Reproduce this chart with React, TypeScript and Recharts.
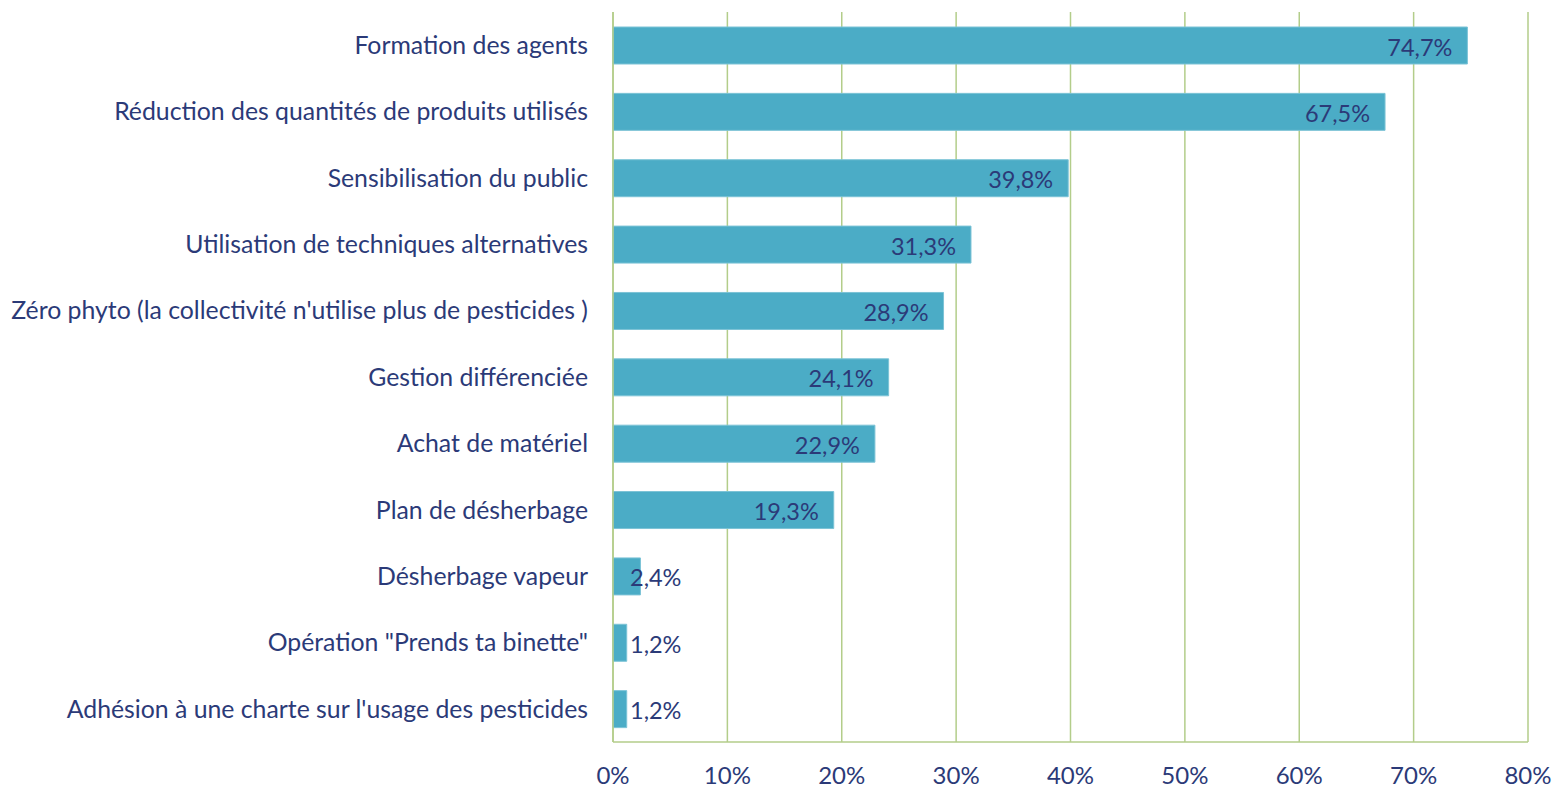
import React from 'react';
import { BarChart, Bar, XAxis, YAxis, CartesianGrid, LabelList } from 'recharts';

const categories = [
  'Formation des agents',
  'Réduction des quantités de produits utilisés',
  'Sensibilisation du public',
  'Utilisation de techniques alternatives',
  "Zéro phyto (la collectivité n'utilise plus de pesticides )",
  'Gestion différenciée',
  'Achat de matériel',
  'Plan de désherbage',
  'Désherbage vapeur',
  'Opération "Prends ta binette"',
  "Adhésion à une charte sur l'usage des pesticides",
];

const shares = [74.7, 67.5, 39.8, 31.3, 28.9, 24.1, 22.9, 19.3, 2.4, 1.2, 1.2];

const xTicks = [0, 10, 20, 30, 40, 50, 60, 70, 80];

const data = categories.map((name, i) => ({ name, value: shares[i] }));

const TEXT = '#2B3A78';
const GRID = '#B3CD8A';
const BAR = '#4BACC6';
const FONT = 'Lato, "Open Sans", sans-serif';

const fmt = (v: number) => `${v.toFixed(1).replace('.', ',')}%`;

// Excel-style "inside end" label, pushed right when the bar is too short
const ValueLabel = (props: any) => {
  const { x, y, width, height, value } = props;
  const short = width < 96;
  return (
    <text
      x={short ? x + 17 : x + width - 15}
      y={y + height / 2 + 1}
      textAnchor={short ? 'start' : 'end'}
      dominantBaseline="central"
      fill={TEXT}
      fontSize={23.5}
      fontFamily={FONT}
    >
      {fmt(value)}
    </text>
  );
};

export default function App() {
  // absolute so the page never scrolls and the chart uses the whole window
  return (
    <div style={{ position: 'absolute', left: 0, top: 0 }}>
      <BarChart
        width={1556}
        height={789}
        data={data}
        layout="vertical"
        margin={{ top: 12, right: 28, bottom: 0, left: 0 }}
        barCategoryGap={0}
        style={{ fontFamily: FONT }}
      >
        <CartesianGrid horizontal={false} stroke={GRID} strokeWidth={1.5} />
        <XAxis
          type="number"
          domain={[0, 80]}
          ticks={xTicks}
          tickFormatter={(v) => `${v}%`}
          axisLine={{ stroke: GRID, strokeWidth: 1.5 }}
          tickLine={false}
          tickMargin={19}
          height={47}
          interval={0}
          tick={{ fill: TEXT, fontSize: 24, fontFamily: FONT }}
        />
        <YAxis
          type="category"
          dataKey="name"
          width={613}
          axisLine={{ stroke: GRID, strokeWidth: 1.5 }}
          tickLine={false}
          tickMargin={19}
          interval={0}
          tick={{ fill: TEXT, fontSize: 24.8, fontFamily: FONT }}
        />
        <Bar dataKey="value" fill={BAR} stroke="#7CC3D6" strokeWidth={1} barSize={37} isAnimationActive={false}>
          <LabelList dataKey="value" content={ValueLabel} />
        </Bar>
      </BarChart>
    </div>
  );
}
